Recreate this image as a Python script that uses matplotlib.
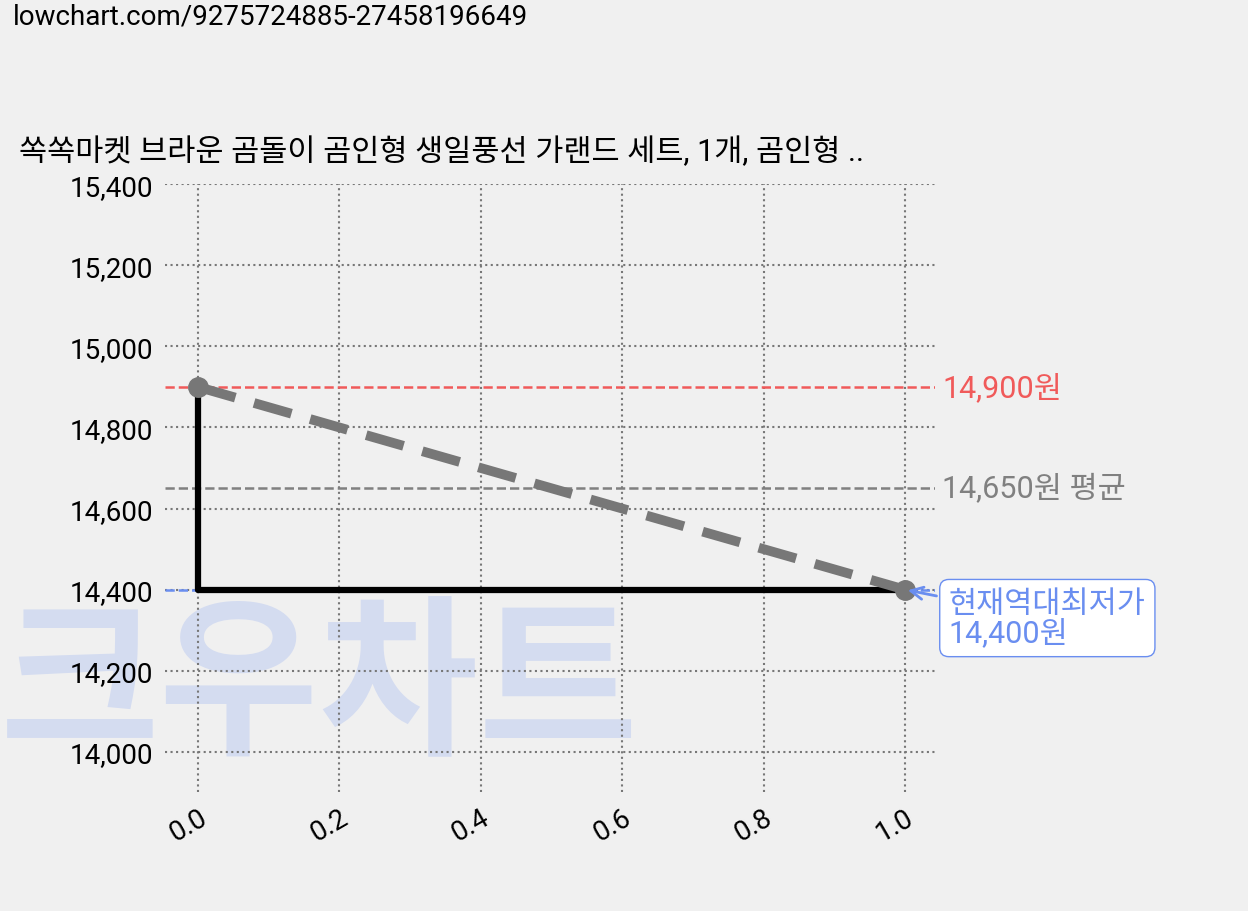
import matplotlib
matplotlib.use('Agg')
import matplotlib.pyplot as plt

plt.rcParams['font.family'] = ['Roboto', 'Noto Sans CJK KR', 'DejaVu Sans']

x_vals = [0, 1]
prices = [14900, 14400]
max_price = 14900
avg_price = 14650
min_price = 14400
title = "쏙쏙마켓 브라운 곰돌이 곰인형 생일풍선 가랜드 세트, 1개, 곰인형 .."
url = "lowchart.com/9275724885-27458196649"

fig = plt.figure(figsize=(12.48, 9.12), dpi=100, facecolor='#f0f0f0')
ax = fig.add_axes([0.132, 0.130, 0.617, 0.667])
ax.patch.set_alpha(0)

fig.text(0.0, 0.245, "크우차트", fontsize=125, fontweight='black',
         family=['Noto Sans CJK KR'], color='#d4dcf0', ha='left', va='center', zorder=-5)

ax.set_xlim(-0.047, 1.042)
ax.set_ylim(13900, 15400)
ax.grid(True, linestyle=':', color='#777777', linewidth=1.5)
ax.set_xticks([0, 0.2, 0.4, 0.6, 0.8, 1.0])
ax.set_yticks([14000, 14200, 14400, 14600, 14800, 15000, 15200, 15400])
ax.yaxis.set_major_formatter(matplotlib.ticker.FuncFormatter(lambda v, p: f"{int(v):,}"))
ax.xaxis.set_major_formatter(matplotlib.ticker.FuncFormatter(lambda v, p: f"{v:.1f}"))
for s in ax.spines.values():
    s.set_visible(False)
ax.tick_params(length=0, labelsize=20, pad=8)
for lbl in ax.get_xticklabels():
    lbl.set_rotation(30)
    lbl.set_ha('right')
    lbl.set_rotation_mode('anchor')

ax.axhline(max_price, color='#f05a5a', linestyle='--', linewidth=1.8)
ax.axhline(avg_price, color='#808080', linestyle='--', linewidth=1.8)
ax.axhline(min_price, color='#6a8ef0', linestyle='--', linewidth=1.8)

ax.plot(x_vals, prices, drawstyle='steps-pre', color='black', linewidth=4.5)
ax.plot(x_vals, prices, color='#777777', linestyle='--', linewidth=7, dashes=(4, 2),
        marker='o', markersize=14)

ax.text(1.01, max_price, f"{max_price:,}원", color='#f05a5a', fontsize=22,
        va='center', ha='left', transform=ax.get_yaxis_transform())
ax.text(1.01, avg_price, f"{avg_price:,}원 평균", color='#808080', fontsize=22,
        va='center', ha='left', transform=ax.get_yaxis_transform())
ax.annotate(f"현재역대최저가\n{min_price:,}원", xy=(1.0, min_price),
            xytext=(1.062, min_price - 70), color='#6a8ef0', fontsize=22,
            va='center', ha='left', linespacing=1.0,
            bbox=dict(boxstyle='round,pad=0.3', fc='white', ec='#6a8ef0'),
            arrowprops=dict(arrowstyle='->', color='#6a8ef0', lw=2))

fig.text(0.015, 0.833, title, fontsize=22, ha='left', va='center')
fig.text(0.01, 0.981, url, fontsize=20, ha='left', va='center')

fig.savefig('out.png', dpi=100, facecolor=fig.get_facecolor())
